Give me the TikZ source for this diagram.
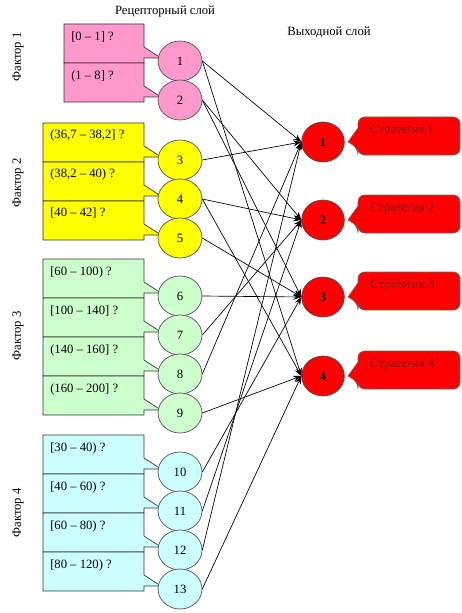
\documentclass[tikz,border=0pt]{standalone}
\usepackage{fontspec}
\setmainfont{Liberation Serif}
\usepackage[dvipsnames]{xcolor}
\usetikzlibrary{arrows.meta,shapes.geometric}

\definecolor{rosa}{RGB}{255,153,204}
\definecolor{gelb}{RGB}{255,255,0}
\definecolor{gruen}{RGB}{204,255,204}
\definecolor{cyanlight}{RGB}{204,255,255}
\definecolor{stratred}{RGB}{255,0,0}
\definecolor{stratdark}{RGB}{128,0,0}

\begin{document}
\begin{tikzpicture}[x=0.75pt,y=-0.75pt,>={Stealth[length=6pt,width=4.5pt]},
    every node/.style={font=\fontsize{9.5}{11}\selectfont},
    in node/.style={ellipse,draw=black!70,line width=0.5pt,minimum width=33pt,minimum height=30pt,inner sep=0pt},
    out node/.style={ellipse,draw=black!70,line width=0.5pt,fill=stratred,minimum width=32pt,minimum height=30pt,inner sep=0pt,font=\fontsize{9.5}{11}\selectfont\bfseries},
    rowbox/.style={draw=black!80,line width=0.5pt},
    rowtext/.style={anchor=west,inner sep=0pt},
    stratbox/.style={draw=black!60,line width=0.5pt,fill=stratred},
    strattext/.style={anchor=west,inner sep=0pt,text=stratdark},
    factor/.style={rotate=90,inner sep=0pt},
    conn/.style={->,line width=0.5pt}]

                \useasboundingbox (0,0) rectangle (461,613);

                \node (recep) at (165,12) {Рецепторный слой};
                \node (outl) at (329,32) {Выходной слой};

                \node[factor] (f1) at (18,57) {Фактор 1};
                \node[factor] (f2) at (18,183) {Фактор 2};
                \node[factor] (f3) at (18,336) {Фактор 3};
                \node[factor] (f4) at (18,513) {Фактор 4};

                % Фактор 1
                \draw[rowbox,fill=rosa] (64,24) -- (144,24) -- (144,47) -- (161,58) -- (144,58) -- (144,63) -- (64,63) -- cycle;
                \draw[rowbox,fill=rosa] (64,63) -- (144,63) -- (144,86) -- (161,97) -- (144,97) -- (144,102) -- (64,102) -- cycle;
                \node[rowtext] (t1) at (71,37) {[0 – 1] ?};
                \node[rowtext] (t2) at (71,76) {(1 – 8] ?};

                % Фактор 2
                \draw[rowbox,fill=gelb] (43,123) -- (144,123) -- (144,146) -- (161,157) -- (144,157) -- (144,162) -- (43,162) -- cycle;
                \draw[rowbox,fill=gelb] (43,162) -- (144,162) -- (144,185) -- (161,196) -- (144,196) -- (144,201) -- (43,201) -- cycle;
                \draw[rowbox,fill=gelb] (43,201) -- (144,201) -- (144,224) -- (161,235) -- (144,235) -- (144,240) -- (43,240) -- cycle;
                \node[rowtext] (t3) at (50,135) {(36,7 – 38,2] ?};
                \node[rowtext] (t4) at (50,174) {(38,2 – 40) ?};
                \node[rowtext] (t5) at (50,213) {[40 – 42] ?};

                % Фактор 3
                \draw[rowbox,fill=gruen] (43,259) -- (144,259) -- (144,282) -- (161,293) -- (144,293) -- (144,298) -- (43,298) -- cycle;
                \draw[rowbox,fill=gruen] (43,298) -- (144,298) -- (144,321) -- (161,332) -- (144,332) -- (144,337) -- (43,337) -- cycle;
                \draw[rowbox,fill=gruen] (43,337) -- (144,337) -- (144,360) -- (161,371) -- (144,371) -- (144,376) -- (43,376) -- cycle;
                \draw[rowbox,fill=gruen] (43,376) -- (144,376) -- (144,399) -- (161,410) -- (144,410) -- (144,415) -- (43,415) -- cycle;
                \node[rowtext] (t6) at (50,272) {[60 – 100) ?};
                \node[rowtext] (t7) at (50,311) {[100 – 140] ?};
                \node[rowtext] (t8) at (50,350) {(140 – 160] ?};
                \node[rowtext] (t9) at (50,389) {(160 – 200] ?};

                % Фактор 4
                \draw[rowbox,fill=cyanlight] (43,435) -- (144,435) -- (144,458) -- (161,469) -- (144,469) -- (144,474) -- (43,474) -- cycle;
                \draw[rowbox,fill=cyanlight] (43,474) -- (144,474) -- (144,497) -- (161,508) -- (144,508) -- (144,513) -- (43,513) -- cycle;
                \draw[rowbox,fill=cyanlight] (43,513) -- (144,513) -- (144,536) -- (161,547) -- (144,547) -- (144,552) -- (43,552) -- cycle;
                \draw[rowbox,fill=cyanlight] (43,552) -- (144,552) -- (144,575) -- (161,586) -- (144,586) -- (144,591) -- (43,591) -- cycle;
                \node[rowtext] (t10) at (50,448) {[30 – 40) ?};
                \node[rowtext] (t11) at (50,487) {[40 – 60) ?};
                \node[rowtext] (t12) at (50,526) {[60 – 80) ?};
                \node[rowtext] (t13) at (50,565) {[80 – 120) ?};

                % рецепторный слой
                \node[in node, fill=rosa]  (r1) at (180,61) {1};
                \node[in node, fill=rosa]  (r2) at (180,100) {2};
                \node[in node, fill=gelb]  (r3) at (180,160) {3};
                \node[in node, fill=gelb]  (r4) at (180,199) {4};
                \node[in node, fill=gelb]  (r5) at (180,238) {5};
                \node[in node, fill=gruen]  (r6) at (180,296) {6};
                \node[in node, fill=gruen]  (r7) at (180,335) {7};
                \node[in node, fill=gruen]  (r8) at (180,374) {8};
                \node[in node, fill=gruen]  (r9) at (180,413) {9};
                \node[in node, fill=cyanlight]  (r10) at (180,472) {10};
                \node[in node, fill=cyanlight]  (r11) at (180,511) {11};
                \node[in node, fill=cyanlight]  (r12) at (180,550) {12};
                \node[in node, fill=cyanlight]  (r13) at (180,589) {13};

                % выходной слой
                \draw[stratbox] (410,117) [rounded corners=5pt] -- (460,117) -- (460,155) -- (358,155) -- (358,148) [sharp corners] -- (348,142) -- (358,128) [rounded corners=5pt] -- (358,117) -- cycle;
                \draw[stratbox] (410,195) [rounded corners=5pt] -- (460,195) -- (460,233) -- (358,233) -- (358,226) [sharp corners] -- (348,220) -- (358,206) [rounded corners=5pt] -- (358,195) -- cycle;
                \draw[stratbox] (410,272) [rounded corners=5pt] -- (460,272) -- (460,310) -- (358,310) -- (358,303) [sharp corners] -- (348,297) -- (358,283) [rounded corners=5pt] -- (358,272) -- cycle;
                \draw[stratbox] (410,351) [rounded corners=5pt] -- (460,351) -- (460,389) -- (358,389) -- (358,382) [sharp corners] -- (348,376) -- (358,362) [rounded corners=5pt] -- (358,351) -- cycle;
                \node[strattext] (s1) at (370,131) {Стратегия 1};
                \node[strattext] (s2) at (370,209) {Стратегия 2};
                \node[strattext] (s3) at (370,286) {Стратегия 3};
                \node[strattext] (s4) at (370,365) {Стратегия 4};

                \node[out node] (v1) at (323,142) {1};
                \node[out node] (v2) at (323,220) {2};
                \node[out node] (v3) at (323,297) {3};
                \node[out node] (v4) at (323,376) {4};

                \path[conn]

                (r1.east) edge (v1.west)
                (r1.east) edge (v4.west)
                (r2.east) edge (v2.west)
                (r2.east) edge (v3.west)
                (r3.east) edge (v1.west)
                (r4.east) edge (v2.west)
                (r4.east) edge (v4.west)
                (r5.east) edge (v3.west)
                (r6.east) edge (v3.west)
                (r7.east) edge (v2.west)
                (r8.east) edge (v1.west)
                (r9.east) edge (v4.west)
                (r10.east) edge (v3.west)
                (r11.east) edge (v2.west)
                (r12.east) edge (v1.west)
                (r13.east) edge (v4.west)
            ;
            \end{tikzpicture}
\end{document}
